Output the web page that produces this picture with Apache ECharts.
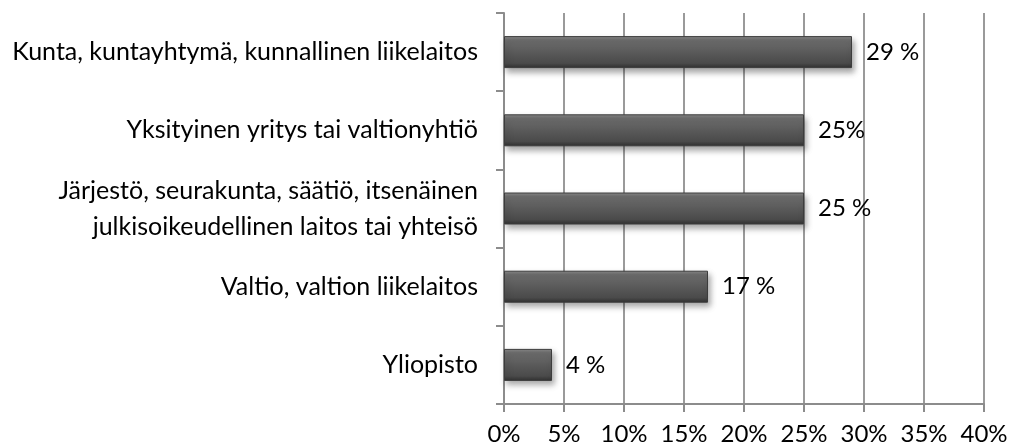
<!DOCTYPE html>
<html>
<head>
<meta charset="utf-8">
<script src="https://cdn.jsdelivr.net/npm/echarts@6/dist/echarts.min.js"></script>
<style>
  html, body { margin: 0; padding: 0; background: #fff; }
  #chart { width: 1012px; height: 448px; }
</style>
</head>
<body>
<div id="chart"></div>
<script>
const categories = [
  "Kunta, kuntayhtymä, kunnallinen liikelaitos",
  "Yksityinen yritys tai valtionyhtiö",
  "Järjestö, seurakunta, säätiö, itsenäinen\njulkisoikeudellinen laitos tai yhteisö",
  "Valtio, valtion liikelaitos",
  "Yliopisto"
];
const values = [29, 25, 25, 17, 4];
const valueLabels = ["29 %", "25%", "25 %", "17 %", "4 %"];

const FONT = "Lato";
const chart = echarts.init(document.getElementById("chart"));

chart.setOption({
  backgroundColor: "#ffffff",
  animation: false,
  grid: { left: 504, right: 28, top: 13, bottom: 44 },
  xAxis: {
    type: "value",
    min: 0,
    max: 40,
    interval: 5,
    axisLine: { show: true, lineStyle: { color: "#8c8c8c", width: 2 } },
    axisTick: { show: true, length: 8, lineStyle: { color: "#8c8c8c", width: 2 } },
    splitLine: { show: true, lineStyle: { color: "#9a9a9a", width: 2 } },
    axisLabel: {
      formatter: "{value}%",
      color: "#000",
      fontFamily: FONT,
      fontSize: 24,
      margin: 18
    }
  },
  yAxis: {
    type: "category",
    inverse: true,
    data: categories,
    axisLine: { show: true, lineStyle: { color: "#8c8c8c", width: 2 } },
    axisTick: { show: true, length: 8, lineStyle: { color: "#8c8c8c", width: 2 } },
    axisLabel: {
      color: "#000",
      fontFamily: FONT,
      fontSize: 25,
      lineHeight: 36,
      margin: 26,
      align: "right"
    }
  },
  series: [{
    type: "bar",
    data: values,
    barWidth: 32,
    itemStyle: {
      color: new echarts.graphic.LinearGradient(0, 0, 0, 1, [
        { offset: 0, color: "#8a8a8a" },
        { offset: 0.12, color: "#6e6e6e" },
        { offset: 0.5, color: "#5a5a5a" },
        { offset: 0.85, color: "#4a4a4a" },
        { offset: 1, color: "#303030" }
      ]),
      borderColor: "#3c3c3c",
      borderWidth: 1,
      shadowColor: "rgba(0,0,0,0.35)",
      shadowBlur: 6,
      shadowOffsetX: 2,
      shadowOffsetY: 4
    },
    label: {
      show: true,
      position: "right",
      distance: 14,
      color: "#000",
      fontFamily: FONT,
      fontSize: 24,
      formatter: (p) => valueLabels[p.dataIndex]
    }
  }]
});
</script>
</body>
</html>
